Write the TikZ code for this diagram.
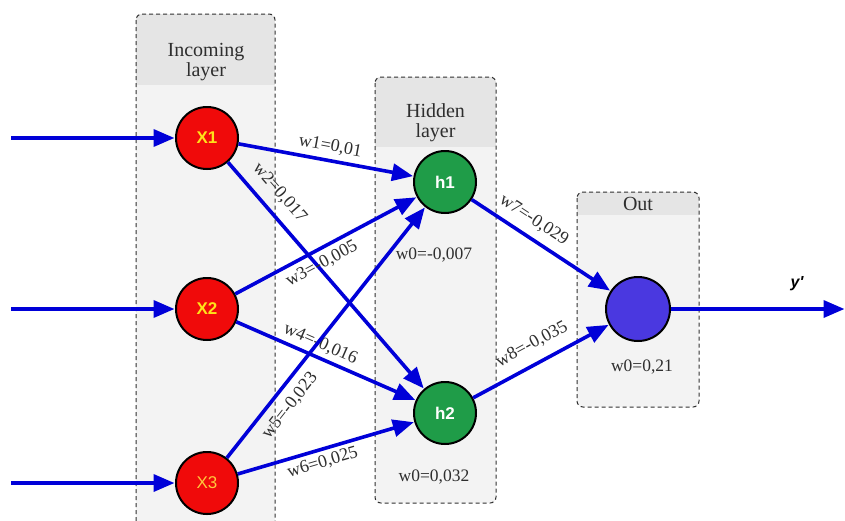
\documentclass[tikz,border=0pt]{standalone}
\usepackage{fontspec}
\setmainfont{Liberation Serif}
\newfontfamily\arialf{Liberation Sans}
\usetikzlibrary{arrows.meta}
\definecolor{arrowblue}{HTML}{0000D8}
\definecolor{xred}{HTML}{F00A0A}
\definecolor{xyellow}{HTML}{FFE21A}
\definecolor{x3yellow}{HTML}{FFC83C}
\definecolor{hgreen}{HTML}{1F9C48}
\definecolor{oblue}{HTML}{4A38E0}
\definecolor{boxbody}{HTML}{F3F3F3}
\definecolor{boxhead}{HTML}{E5E5E5}
\definecolor{boxline}{HTML}{303030}
\tikzset{
  neuron/.style={circle, draw=black, line width=2pt, minimum size=62pt, inner sep=0pt,
    font=\arialf\bfseries\fontsize{17}{17}\selectfont},
  inneuron/.style={neuron, fill=xred, text=xyellow},
  hidneuron/.style={neuron, fill=hgreen, text=white},
  outneuron/.style={neuron, fill=oblue, minimum size=64pt},
  conn/.style={draw=arrowblue, line width=3.6pt, -{Triangle[length=21pt,width=17pt]}, shorten >=0.5pt},
  wlab/.style={font=\fontsize{18}{18}\selectfont, inner sep=0pt, sloped, text=black!82},
  biaslab/.style={font=\fontsize{17.5}{17.5}\selectfont, inner sep=0pt, text=black!82},
  hdr/.style={font=\fontsize{20}{20.5}\selectfont, align=center, inner sep=0pt, text=black!82},
  boxborder/.style={draw=boxline, line width=1pt, dash pattern=on 4pt off 3pt, rounded corners=6pt},
}
\begin{document}
\begin{tikzpicture}[x=1pt,y=-1pt]
\useasboundingbox (0,0) rectangle (845,520);
\fill[white] (0,0) rectangle (845,520);
% ---- layer boxes ----
\begin{scope}
  \clip[rounded corners=6pt] (136,14) rectangle (275,545);
  \fill[boxbody] (136,14) rectangle (275,545);
  \fill[boxhead] (136,14) rectangle (275,85);
\end{scope}
\draw[boxborder] (136,14) rectangle (275,545);
\begin{scope}
  \clip[rounded corners=6pt] (375,77) rectangle (496,503);
  \fill[boxbody] (375,77) rectangle (496,503);
  \fill[boxhead] (375,77) rectangle (496,147);
\end{scope}
\draw[boxborder] (375,77) rectangle (496,503);
\begin{scope}
  \clip[rounded corners=6pt] (577,192) rectangle (699,407);
  \fill[boxbody] (577,192) rectangle (699,407);
  \fill[boxhead] (577,192) rectangle (699,215);
\end{scope}
\draw[boxborder] (577,192) rectangle (699,407);
% ---- headers ----
\node[hdr] (inhdr) at (206,62) {Incoming\\layer};
\node[hdr] (hidhdr) at (435.5,122.5) {Hidden\\layer};
\node[hdr] (outhdr) at (638,204) {Out};
% ---- neurons ----
\node[inneuron] (X1) at (207,138) {X1};
\node[inneuron] (X2) at (207,309) {X2};
\node[inneuron, text=x3yellow, font=\arialf\fontsize{17}{17}\selectfont] (X3) at (207,483) {X3};
\node[hidneuron] (h1) at (445,182) {h1};
\node[hidneuron] (h2) at (445,413) {h2};
\node[outneuron] (out) at (638,309) {};
% ---- inputs / output ----
\coordinate (in1) at (11,138);
\coordinate (in2) at (11,309);
\coordinate (in3) at (11,483);
\coordinate (yout) at (845,309);
\draw[conn] (in1) -- (X1);
\draw[conn] (in2) -- (X2);
\draw[conn] (in3) -- (X3);
\draw[conn] (out) -- (yout);
\node[font=\arialf\bfseries\itshape\fontsize{16}{16}\selectfont, inner sep=0pt] (ylab) at (797,284) {y'};
% ---- weights ----
\draw[conn] (X1) -- node[wlab, pos=0.51, above=5pt] {w1=0,01} (h1);
\draw[conn] (X1) -- node[wlab, pos=0.19, above=10pt] {w2=0,017} (h2);
\draw[conn] (X2) -- node[wlab, pos=0.44, below=5pt] {w3=-0,005} (h1);
\draw[conn] (X2) -- node[wlab, pos=0.44, above=4pt] {w4=-0,016} (h2);
\draw[conn] (X3) -- node[wlab, pos=0.25, below=8pt] {w5=-0,023} (h1);
\draw[conn] (X3) -- node[wlab, pos=0.46, below=4pt] {w6=0,025} (h2);
\draw[conn] (h1) -- node[wlab, pos=0.38, above=8pt] {w7=-0,029} (out);
\draw[conn] (h2) -- node[wlab, pos=0.50, above=10pt] {w8=-0,035} (out);
% ---- biases ----
\node[biaslab] (b1) at (434,255) {w0=-0,007};
\node[biaslab] (b2) at (434,477) {w0=0,032};
\node[biaslab] (b3) at (642,367) {w0=0,21};
\end{tikzpicture}
\end{document}
